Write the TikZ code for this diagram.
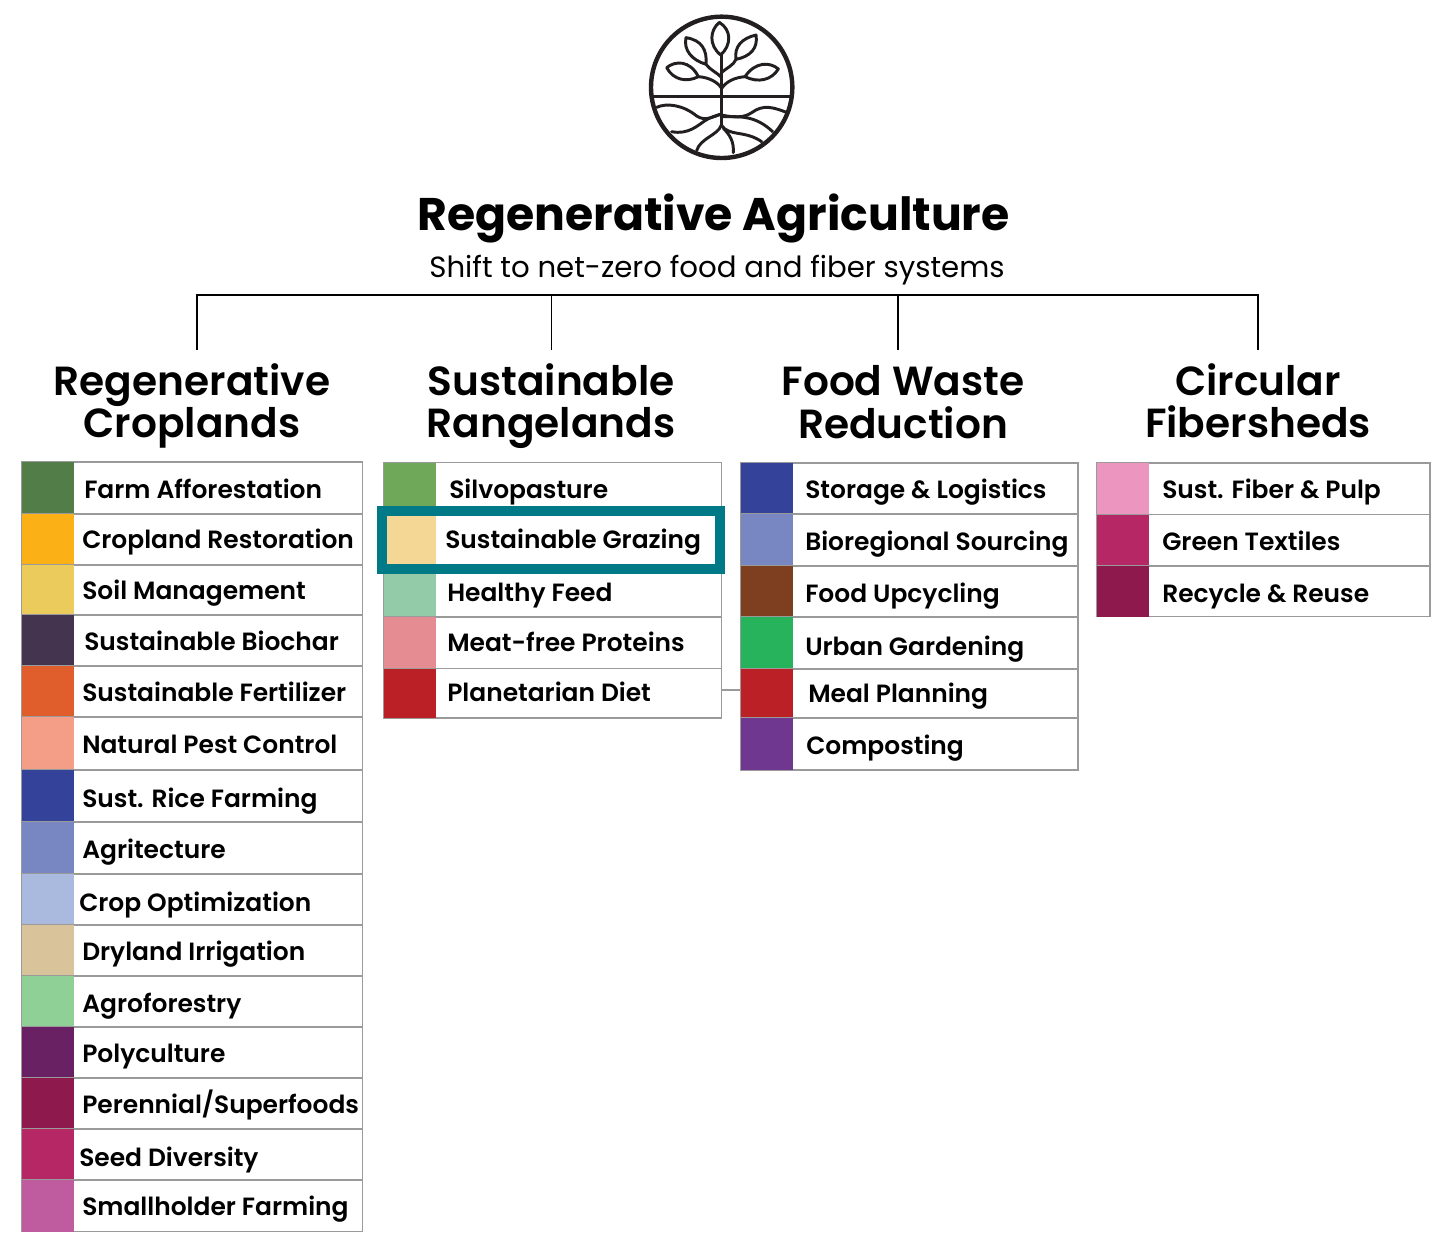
\documentclass[tikz,border=0pt]{standalone}
\usepackage{fontspec}
\setmainfont{Poppins}
\newfontfamily\itemfont{Poppins SemiBold}
\newfontfamily\headfont{Poppins SemiBold}
\newfontfamily\titlefont{Poppins}[BoldFont={Poppins Bold}]
\definecolor{edge}{HTML}{9A9A9A}
\definecolor{tealbox}{HTML}{007A87}
\definecolor{ink}{HTML}{231F20}
\tikzset{
  x=0.75pt,y=-0.75pt,
  swatchbox/.style={draw=none,inner sep=0,outer sep=0},
  rowbox/.style={draw=edge,line width=0.9pt,fill=white,inner sep=0,outer sep=0},
  itemlabel/.style={inner sep=0,anchor=base west,font=\itemfont\fontsize{18.7}{20}\selectfont,text=black},
  headlabel/.style={inner sep=0,align=center,font=\headfont\fontsize{30.5}{31.7}\selectfont,text=black,anchor=center},
  wire/.style={draw=black,line width=0.8pt},
  logo/.style={draw=ink,line width=3.3pt,line cap=round,line join=round},
  logothin/.style={draw=ink,line width=2.2pt,line cap=round,line join=round},
}
\newcommand{\setcol}[3]{\def\xa{#1}\def\xb{#2}\def\xc{#3}}
\newcommand{\hexfill}[1]{\definecolor{tmpfill}{HTML}{#1}}
% name, top, bottom, colour, text x, text centre y, text
\newcommand{\rowitem}[7]{%
  \pgfmathsetmacro{\cxa}{(\xa+\xc)/2}\pgfmathsetmacro{\cya}{(#2+#3)/2}%
  \pgfmathsetmacro{\wa}{(\xc-\xa)*0.75}\pgfmathsetmacro{\ha}{(#3-#2)*0.75}%
  \pgfmathsetmacro{\cxb}{(\xa+\xb)/2}\pgfmathsetmacro{\wb}{(\xb-\xa)*0.75}%
  \pgfmathsetmacro{\by}{#6+9}%
  \hexfill{#4}%
  \node[rowbox,minimum width=\wa pt,minimum height=\ha pt] (#1) at (\cxa,\cya) {};%
  \node[swatchbox,fill=tmpfill,minimum width=\wb pt,minimum height=\ha pt] (#1s) at (\cxb,\cya) {};%
  \node[itemlabel] (#1t) at (#5,\by) {#7};}
\begin{document}
\begin{tikzpicture}
\useasboundingbox (0,0) rectangle (1455,1257);
\fill[white] (0,0) rectangle (1455,1257);

% logo, in zoom units
\begin{scope}[shift={(630,0)},x=0.25pt,y=-0.25pt]
  \draw[logo] (275,262) circle[radius=212];
  \draw[logothin,line cap=butt] (65,290) -- (485,290);
  % leaves
  \draw[logothin] (268,67) .. controls (240,90) and (235,135) .. (272,165) .. controls (305,135) and (305,90) .. (268,67) -- cycle;
  \draw[logothin] (168,113) .. controls (160,150) and (185,180) .. (228,193) .. controls (232,150) and (215,120) .. (168,113) -- cycle;
  \draw[logothin] (378,105) .. controls (335,115) and (312,140) .. (318,178) .. controls (360,170) and (385,145) .. (378,105) -- cycle;
  \draw[logothin] (110,203) .. controls (135,182) and (180,180) .. (205,230) .. controls (170,248) and (130,240) .. (110,203) -- cycle;
  \draw[logothin] (445,207) .. controls (420,185) and (375,185) .. (345,230) .. controls (385,250) and (425,240) .. (445,207) -- cycle;
  % stem and branches
  \draw[logothin] (274,165) -- (274,375);
  \draw[logothin] (228,193) .. controls (240,210) and (262,218) .. (274,232);
  \draw[logothin] (318,178) .. controls (312,195) and (288,205) .. (274,218);
  \draw[logothin] (205,230) .. controls (235,232) and (262,245) .. (274,264);
  \draw[logothin] (345,230) .. controls (315,232) and (288,245) .. (276,264);
  % roots
  \draw[logothin] (80,322) .. controls (110,308) and (160,315) .. (200,348) .. controls (225,365) and (250,350) .. (274,342);
  \draw[logothin] (125,395) .. controls (175,405) and (205,375) .. (225,362) .. controls (240,352) and (258,347) .. (274,342);
  \draw[logothin] (274,345) .. controls (310,352) and (340,355) .. (365,338) .. controls (400,312) and (430,322) .. (472,338);
  \draw[logothin] (274,350) .. controls (330,350) and (375,345) .. (428,395);
  \draw[logothin] (274,375) .. controls (295,410) and (345,390) .. (395,425);
  \draw[logothin] (200,452) .. controls (210,415) and (265,405) .. (274,375);
  \draw[logothin] (280,385) .. controls (300,405) and (312,425) .. (310,458);
\end{scope}

% titles
\node[inner sep=0,font=\titlefont\bfseries\fontsize{34.3}{36}\selectfont,anchor=base] (title) at (713.5,230) {Regenerative Agriculture};
\node[inner sep=0,font=\titlefont\fontsize{21.9}{24}\selectfont,anchor=base] (subtitle) at (717,277) {Shift to net-zero food and fiber systems};

% headings
\node[headlabel] (h1) at (192,406) {Regenerative\\Croplands};
\node[headlabel] (h2) at (551,406) {Sustainable\\Rangelands};
\node[headlabel] (h3) at (903,402) {Food Waste\\Reduction};
\node[headlabel] (h4) at (1258,401) {Circular\\Fibersheds};

% bracket
\coordinate (a1) at (197,350); \coordinate (a2) at (551.5,350);
\coordinate (a3) at (898,350); \coordinate (a4) at (1258,350);
\coordinate (top1) at (197,295); \coordinate (top2) at (551.5,295);
\coordinate (top3) at (898,295); \coordinate (top4) at (1258,295);
\draw[wire] (a1) -- (top1) -- (top4) -- (a4);
\draw[wire] (top2) -- (a2);
\draw[wire] (top3) -- (a3);

% column 1
\setcol{22}{74}{362.5}
\rowitem{ca}{462}{514}{527D48}{84}{489}{Farm Afforestation}
\rowitem{cb}{514}{565}{FBB116}{82}{539}{Cropland Restoration}
\rowitem{cc}{565}{615}{EBCB5C}{82}{590}{Soil Management}
\rowitem{cd}{615}{666}{44344F}{84}{641}{Sustainable Biochar}
\rowitem{ce}{666}{717}{E05E2B}{82}{692}{Sustainable Fertilizer}
\rowitem{cf}{717}{770}{F59E87}{82}{744}{Natural Pest Control}
\rowitem{cg}{770}{822}{344399}{82}{798}{Sust. Rice Farming}
\rowitem{ch}{822}{874}{7887C2}{82}{849}{Agritecture}
\rowitem{ci}{874}{925}{AAB9DE}{79}{902}{Crop Optimization}
\rowitem{cj}{925}{976}{D8C39B}{82}{951}{Dryland Irrigation}
\rowitem{ck}{976}{1027}{8FD096}{82}{1003}{Agroforestry}
\rowitem{cl}{1027}{1078}{692163}{82}{1053}{Polyculture}
\rowitem{cm}{1078}{1129}{8E1A4D}{82}{1104}{Perennial/Superfoods}
\rowitem{cn}{1129}{1180}{B52765}{79}{1157}{Seed Diversity}
\rowitem{co}{1180}{1231.5}{BE5C9F}{82}{1206}{Smallholder Farming}

% column 2
\setcol{384}{436}{721.5}
\rowitem{ra}{462.5}{514}{6FA858}{449}{489}{Silvopasture}
\rowitem{rb}{514}{566}{F5D795}{445}{539}{Sustainable Grazing}
\rowitem{rc}{566}{617}{93CBA8}{447}{592}{Healthy Feed}
\rowitem{rd}{617}{668.5}{E58C92}{447}{642}{Meat-free Proteins}
\rowitem{re}{668.5}{718}{BB2026}{447}{692}{Planetarian Diet}

% column 3
\setcol{741}{793}{1078}
\rowitem{fa}{463}{514}{344399}{805}{489}{Storage \& Logistics}
\rowitem{fb}{514}{566}{7887C2}{805}{541}{Bioregional Sourcing}
\rowitem{fc}{566}{617}{7E3F20}{805}{593}{Food Upcycling}
\rowitem{fd}{617}{669}{27B35C}{805}{646}{Urban Gardening}
\rowitem{fe}{669}{718}{BB2026}{808}{693}{Meal Planning}
\rowitem{ff}{718}{770}{6F3790}{806}{745}{Composting}

% column 4
\setcol{1097}{1149}{1430}
\rowitem{ga}{463}{514.5}{EC95BF}{1162}{489}{Sust. Fiber \& Pulp}
\rowitem{gb}{514.5}{566}{B52765}{1162}{541}{Green Textiles}
\rowitem{gc}{566}{616.5}{8E1A4D}{1162}{593}{Recycle \& Reuse}

% link between columns 2 and 3
\coordinate (la) at (re.east|-0,690); \coordinate (lb) at (fes.west|-0,690);
\draw[draw=edge,line width=0.9pt] (la) -- (lb);

% highlight
\node[draw=tealbox,line width=7.5pt,minimum width=253.5pt,minimum height=43.5pt,inner sep=0,outer sep=0] (hl) at (551,540) {};
\end{tikzpicture}
\end{document}
